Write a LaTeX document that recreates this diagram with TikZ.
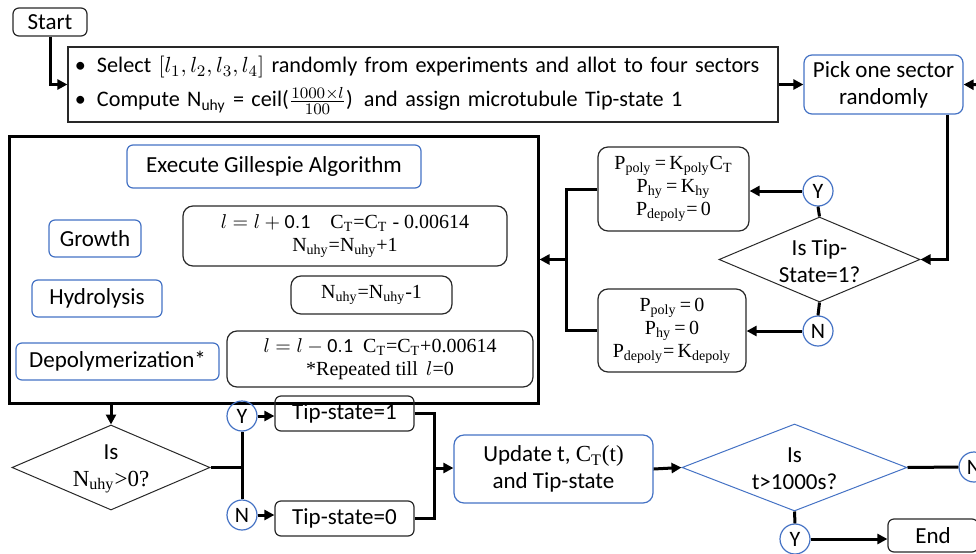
\documentclass[tikz,border=0pt]{standalone}
\usepackage{fontspec}
\setmainfont{Carlito}
\newfontfamily\eqfont{Liberation Serif}
\usetikzlibrary{shapes.geometric,arrows.meta,calc}
\definecolor{boxblue}{RGB}{68,114,196}
\definecolor{boxgray}{RGB}{40,40,40}
\newcommand{\sub}[1]{\textsubscript{#1}}
\newcommand{\flowfont}{\fontsize{11.5}{13.5}\selectfont}
\tikzset{
  plainbox/.style={draw=boxgray,line width=0.6pt,rounded corners=3pt,inner sep=0pt,align=center,font=\flowfont},
  bluebox/.style={plainbox,draw=boxblue},
  eqbox/.style={plainbox,rounded corners=5pt,font=\fontsize{10}{11.5}\selectfont\eqfont},
  decision/.style={draw=boxgray,line width=0.5pt,diamond,inner sep=0pt},
  yesno/.style={draw=boxblue,line width=0.6pt,circle,inner sep=0pt,minimum size=15pt,font=\fontsize{11}{12}\selectfont},
  thickline/.style={line width=1.5pt},
  flow/.style={thickline,-{Triangle[length=5pt,width=5pt]}}
}
\begin{document}
\begin{tikzpicture}[x=0.5pt,y=-0.5pt]
                \clip (0,0) rectangle (976,553);
                
                % Drawing box around the Gillespie step
                \node [draw,line width=1.5pt,minimum width=264.5pt,minimum height=133.5pt] (algo) at (273.5,269.5) {};%
                
                % Drawing start and first steps
                \node [plainbox,minimum width=37pt,minimum height=14pt] (start) at (50,22) {Start};%
                \node [draw=boxgray,line width=0.6pt,minimum width=355pt,minimum height=37.5pt,inner sep=0pt,text width=348pt,align=left,font=\fontsize{11.1}{13.5}\selectfont] (select) at (423,84.5) {%
                  \begin{tabular}{@{}p{11pt}@{}l@{}}
                  \textbullet & Select $[l_1,l_2,l_3,l_4]$ randomly from experiments and allot to four sectors\\[3pt]
                  \textbullet & Compute N\sub{uhy} = ceil($\frac{1000\times l}{100}$)\, and assign microtubule Tip-state 1
                  \end{tabular}};%
                \node [bluebox,rounded corners=4pt,minimum width=79.5pt,minimum height=29.5pt] (pick) at (883.5,84.5) {Pick one sector\\randomly};%
                
                % Drawing decision on Tip-state
                \node [decision,minimum width=100.5pt,minimum height=42.5pt] (tipq) at (819.5,259.5) {};%
                \node [align=center,font=\flowfont] (tipqtext) at (819.5,261) {Is Tip-\\State=1?};%
                \node [yesno] (py) at (818,191) {Y};%
                \node [yesno] (pn) at (818,331) {N};%
                \node [eqbox,minimum width=75.5pt,minimum height=42pt] (pup) at (673.5,189) {P\sub{poly}\,=\,K\sub{poly}C\sub{T}\\P\sub{hy}\,=\,K\sub{hy}\\P\sub{depoly}=\,0};%
                \node [eqbox,minimum width=74pt,minimum height=41.5pt] (pdown) at (672,330.5) {P\sub{poly}\,=\,0\\P\sub{hy}\,=\,0\\P\sub{depoly}=\,K\sub{depoly}};%
                
                % Drawing the Gillespie step
                \node [bluebox,minimum width=147pt,minimum height=21.5pt] (exec) at (274,166.5) {Execute Gillespie Algorithm};%
                \node [bluebox,minimum width=46pt,minimum height=18.5pt] (growth) at (95,238.5) {Growth};%
                \node [bluebox,minimum width=65pt,minimum height=18.5pt] (hydro) at (97,298.5) {Hydrolysis};%
                \node [bluebox,minimum width=101.5pt,minimum height=18.5pt] (depoly) at (117.5,361.5) {Depolymerization*};%
                \node [eqbox,minimum width=162pt,minimum height=30pt] (geq) at (345,236) {$l=l+\mathrm{0.1}$\quad C\sub{T}=C\sub{T} - 0.00614\\N\sub{uhy}=N\sub{uhy}+1};%
                \node [eqbox,minimum width=80.5pt,minimum height=19pt] (heq) at (371.5,295) {N\sub{uhy}=N\sub{uhy}-1};%
                \node [eqbox,minimum width=153pt,minimum height=28pt] (deq) at (380,359) {$l=l-\mathrm{0.1}$\enspace C\sub{T}=C\sub{T}+0.00614\\*Repeated till\, $l$=0};%
                
                % Drawing decision on N_uhy
                \node [decision,minimum width=99pt,minimum height=42.5pt] (nq) at (111,467.5) {};%
                \node [align=center,font=\flowfont] (nqtext) at (111,469) {Is\\{\eqfont N\sub{uhy}>0?}};%
                \node [yesno] (ny) at (242,416) {Y};%
                \node [yesno] (nn) at (242,515) {N};%
                \node [plainbox,minimum width=69.5pt,minimum height=17.5pt] (tip1) at (344.5,413.5) {Tip-state=1};%
                \node [plainbox,minimum width=69.5pt,minimum height=17.5pt] (tip0) at (344.5,518.5) {Tip-state=0};%
                
                % Drawing update and time check
                \node [bluebox,rounded corners=5pt,minimum width=99.5pt,minimum height=34pt] (update) at (553.5,469) {Update t, {\eqfont C\sub{T}(t)}\\and Tip-state};%
                \node [decision,draw=boxblue,minimum width=112.5pt,minimum height=43.5pt] (tq) at (794.5,467.5) {};%
                \node [align=center,font=\flowfont] (tqtext) at (794.5,469) {Is\\t>1000s?};%
                \node [yesno] (ty) at (795,539) {Y};%
                \node [yesno] (tn) at (974,467) {N};%
                \node [plainbox,minimum width=45pt,minimum height=16.5pt] (end) at (933,535.5) {End};%
                
                % Drawing connectors
                \draw [flow] (start.south) |- (select.west);%
                \draw [flow] (select.east) -- (pick.west);%
                \coordinate (loopin) at (990,85);%
                \draw [flow] (loopin) -- (pick.east);%
                \draw [flow] ([xshift=-8pt]pick.south east) |- (tipq.east);%
                \draw [thickline] (tipq.north) -- (py.south);%
                \draw [thickline] (tipq.south) -- (pn.north);%
                \draw [flow] (py.west) -- (py.west -| pup.east);%
                \draw [flow] (pn.west) -- (pn.west -| pdown.east);%
                \draw [thickline] (pup.west) -- ++(-15.5pt,0) |- (pdown.west);%
                \coordinate (pjoin) at (567,259.5);%
                \draw [flow] (pjoin) -- (pjoin -| algo.east);%
                \draw [flow] (nq.north |- algo.south) -- (nq.north);%
                \coordinate (njoin) at (ny.south |- nq.east);%
                \draw [thickline] (nq.east) -- (njoin);%
                \draw [thickline] (ny.south) -- (nn.north);%
                \draw [flow] (ny.east) -- (ny.east -| tip1.west);%
                \draw [flow] (nn.east) -- (nn.east -| tip0.west);%
                \draw [thickline] (tip1.east) -- ++(10pt,0) |- (tip0.east);%
                \coordinate (tjoin) at (434,468);%
                \draw [flow] (tjoin) -- (tjoin -| update.west);%
                \draw [flow] (update.east) -- (tq.west);%
                \draw [thickline] (tq.east) -- (tn.west);%
                \draw [thickline] (tq.south) -- (ty.north);%
                \draw [flow] (ty.east) -- (ty.east -| end.west);%
            \end{tikzpicture}
\end{document}
